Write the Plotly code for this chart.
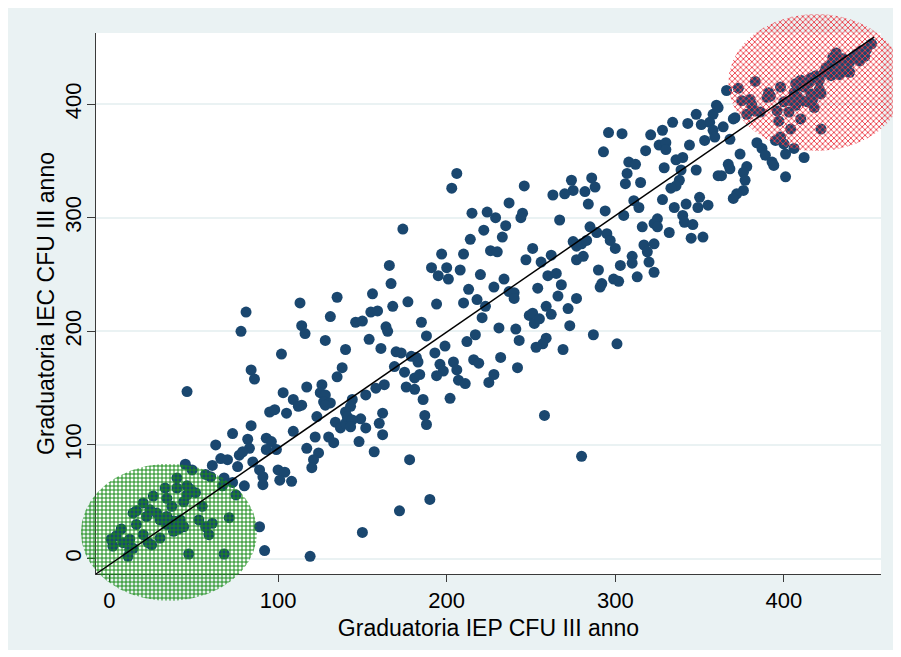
import numpy as np
import plotly.graph_objects as go

# ---------------- data ----------------
# (Graduatoria IEP CFU III anno, Graduatoria IEC CFU III anno)
pts_low = [
    (46,147),(103,146),(109,140),(95,129),(98,131),(105,128),(84,117),(73,110),(109,112),(82,105),
    (83,97),(93,106),(96,103),(63,100),(77,91),(79,94),(66,88),(70,87),(93,96),(99,96),
    (85,85),(76,81),(61,82),(89,78),(91,72),(100,78),(104,76),(101,69),(108,68),(91,65),
    (80,64),(45,83),(49,78),(57,74),(60,72),(40,71),(68,71),(73,67),(67,64),(75,56),
    (33,62),(40,62),(46,64),(48,61),(26,55),(34,53),(37,46),(44,50),(46,56),(51,58),
    (55,46),(20,49),(16,42),(14,40),(24,43),(28,40),(22,37),(30,34),(34,37),(38,33),
    (34,30),(42,34),(44,28),(53,34),(57,28),(61,31),(59,21),(71,36),(89,28),(38,24),
    (41,26),(16,30),(7,26),(4,20),(1,17),(2,11),(8,14),(12,17),(14,9),(11,2),
    (12,8),(20,21),(23,14),(25,12),(30,18),(47,4),(68,4),(92,7),
]
pts_mid_a = [
    (166,258),(167,242),(156,233),(135,230),(113,225),(177,226),(168,222),(81,217),(155,217),(159,218),
    (131,213),(146,208),(150,209),(185,208),(114,205),(116,198),(78,200),(164,204),(165,200),(154,193),
    (188,196),(128,192),(161,185),(140,184),(170,182),(173,181),(102,180),(179,178),(182,177),(183,173),
    (169,169),(138,168),(135,160),(84,166),(86,158),(175,164),(181,159),(184,162),(117,151),(126,153),
    (125,146),(128,144),(163,153),(158,150),(176,151),(181,149),(152,144),(186,140),(144,140),(143,134),
    (140,129),(127,138),(131,137),(128,135),(114,135),(112,134),(123,125),(162,128),(160,119),(162,109),
    (149,123),(152,115),(148,103),(134,120),(137,115),(140,119),(141,125),(144,122),(143,116),(187,126),
    (188,118),(122,107),(130,107),(133,102),(117,97),(157,94),(124,93),(121,87),(120,80),(178,87),
]
pts_mid_b = [
    (206,339),(203,326),(246,328),(274,333),(275,324),(270,321),(263,320),(237,313),(215,304),(224,305),
    (229,300),(245,304),(244,300),(267,298),(235,293),(233,283),(222,289),(174,290),(214,281),(226,271),
    (230,270),(251,273),(275,279),(277,275),(197,268),(210,268),(262,267),(247,263),(256,261),(277,263),
    (191,256),(200,256),(195,249),(201,246),(208,254),(220,250),(260,249),(265,251),(234,246),(213,237),
    (228,239),(254,238),(268,241),(237,235),(240,234),(240,229),(266,231),(277,229),(194,224),(210,225),
    (218,228),(223,222),(259,222),(262,215),(272,220),(249,214),(251,216),(252,207),(255,211),(221,212),
    (273,205),(231,203),(241,202),(243,192),(217,197),(212,191),(199,187),(259,194),(257,189),(253,186),
    (269,184),(193,181),(196,171),(198,165),(204,173),(206,166),(216,175),(219,172),(232,177),(242,168),
    (194,161),(207,157),(211,154),(225,155),(228,162),(202,141),(258,126),
]
pts_mid_c = [
    (360,399),(358,391),(348,391),(334,384),(343,383),(351,382),(356,384),(358,377),(328,377),(296,375),
    (304,374),(321,373),(353,368),(344,364),(326,364),(330,366),(330,360),(318,359),(293,358),(336,351),
    (340,353),(308,349),(312,347),(329,344),(348,342),(339,342),(338,333),(336,328),(361,337),(307,339),
    (306,330),(315,331),(286,335),(288,327),(333,326),(282,323),(311,315),(314,309),(328,316),(350,318),
    (355,311),(349,309),(342,312),(335,309),(284,312),(294,306),(305,302),(340,302),(341,296),(346,294),
    (325,299),(323,295),(325,292),(316,292),(332,287),(352,283),(345,282),(285,292),(289,287),(295,286),
    (297,280),(300,273),(280,277),(283,280),(317,276),(319,270),(323,277),(310,266),(303,258),(310,260),
    (320,261),(323,252),(281,266),(290,254),(299,246),(302,244),(292,242),(291,239),(313,248),(287,197),
    (301,189),
]
pts_high = [
    (452,453),(449,448),(446,447),(448,442),(443,444),(441,441),(445,438),(439,437),(435,440),(431,445),
    (429,441),(433,434),(428,435),(425,432),(430,431),(437,429),(439,428),(433,426),(428,425),(424,428),
    (419,425),(416,423),(421,421),(415,419),(410,421),(408,416),(407,418),(412,415),(421,413),(422,409),
    (416,409),(417,404),(414,402),(418,397),(411,403),(408,407),(406,410),(407,399),(404,403),(400,402),
    (398,415),(391,410),(390,406),(392,407),(396,394),(397,385),(403,393),(410,387),(404,378),(422,378),
    (383,420),(375,403),(380,404),(381,399),(378,391),(383,394),(386,393),(373,414),(366,412),(371,388),
    (398,371),(395,368),(400,365),(406,361),(401,356),(412,353),(384,366),(387,361),(389,355),(393,349),
    (394,346),(401,336),(374,356),(367,347),(368,343),(378,345),(376,340),(377,333),(363,337),(376,324),
    (372,321),(370,317),(361,397),(359,371),(364,380),(368,369),(370,387),
]
pts_outliers = [(280,90),(190,52),(172,42),(150,23),(119,2)]

# fitted line end points
line_x = [-8, 453.5]
line_y = [-13.6, 459]

# highlighted groups (centre x, centre y, radius x, radius y) in data units
ellipse_low = (35.3, 23.1, 52.2, 60.3)
ellipse_high = (419.3, 419.0, 52.2, 60.3)

x_ticks = [0, 100, 200, 300, 400]
y_ticks = [0, 100, 200, 300, 400]
x_title = "Graduatoria IEP CFU III anno"
y_title = "Graduatoria IEC CFU III anno"

# ---------------- layout geometry (figure sits 8px inside the page) ----------------
W, H = 885, 642
L, R, T, B = 88, 873, 25, 566
x_range = [-8.0, 457.6]
y_range = [-13.6, 462.6]
kx = (R - L) / (x_range[1] - x_range[0])
ky = (B - T) / (y_range[1] - y_range[0])
x2_range = [x_range[0] - L / kx, x_range[1] + (W - R) / kx]
y2_range = [y_range[0] - (H - B) / ky, y_range[1] + T / ky]

NAVY = "#1a476f"
BG = "#eaf2f3"
FONT = "Liberation Sans, Arial, sans-serif"

all_pts = pts_low + pts_mid_a + pts_mid_b + pts_mid_c + pts_high + pts_outliers
xs = [p[0] for p in all_pts]
ys = [p[1] for p in all_pts]

fig = go.Figure()
fig.add_trace(go.Scatter(x=xs, y=ys, mode="markers",
                         marker=dict(color=NAVY, size=11, line=dict(width=0)),
                         xaxis="x", yaxis="y", showlegend=False, hoverinfo="x+y"))

t = np.linspace(0, 2 * np.pi, 240)
for (cx, cy, rx, ry), col, shp, sol in [(ellipse_low, "rgb(25,140,25)", "+", 0.45),
                                        (ellipse_high, "rgb(235,60,70)", "x", 0.4)]:
    fig.add_trace(go.Scatter(x=cx + rx * np.cos(t), y=cy + ry * np.sin(t),
                             mode="lines", line=dict(width=0), fill="toself",
                             fillcolor="rgba(0,0,0,0)",
                             fillpattern=dict(shape=shp, fgcolor=col, bgcolor="rgba(0,0,0,0)",
                                              size=4, solidity=sol, fillmode="replace"),
                             xaxis="x2", yaxis="y2", showlegend=False, hoverinfo="skip"))

fig.add_trace(go.Scatter(x=line_x, y=line_y, mode="lines",
                         line=dict(color="black", width=1.5),
                         xaxis="x2", yaxis="y2", showlegend=False, hoverinfo="skip"))

axis_common = dict(showline=True, linecolor="#3a3a3a", linewidth=1, ticks="outside",
                   tickcolor="#3a3a3a", tickwidth=1, zeroline=False,
                   tickfont=dict(family=FONT, size=22, color="black"))

fig.update_layout(
    width=W, height=H, margin=dict(l=0, r=0, t=0, b=0),
    paper_bgcolor=BG, plot_bgcolor="rgba(0,0,0,0)",
    font=dict(family=FONT, color="black"),
    xaxis=dict(domain=[L / W, R / W], range=x_range, anchor="y", tickvals=x_ticks,
               ticklen=7, showgrid=False,
               title=dict(text=x_title, font=dict(family=FONT, size=23), standoff=7),
               **axis_common),
    yaxis=dict(domain=[(H - B) / H, (H - T) / H], range=y_range, anchor="x", tickvals=y_ticks,
               ticklen=8, tickangle=-90, showgrid=True, gridcolor=BG, gridwidth=1.5,
               ticklabelstandoff=-3,
               title=dict(text=y_title, font=dict(family=FONT, size=23), standoff=0),
               **axis_common),
    xaxis2=dict(domain=[0, 1], range=x2_range, anchor="y2", visible=False, fixedrange=True),
    yaxis2=dict(domain=[0, 1], range=y2_range, anchor="x2", visible=False, fixedrange=True),
    shapes=[
        dict(type="rect", xref="paper", yref="paper", x0=L / W, x1=R / W,
             y0=(H - B) / H, y1=(H - T) / H, fillcolor="white", line=dict(width=0), layer="below"),
    ],
)

fig.write_html("out.html")
